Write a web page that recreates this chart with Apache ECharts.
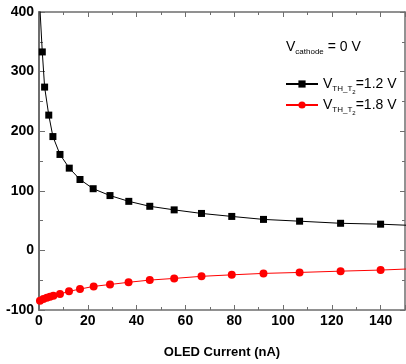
<!DOCTYPE html>
<html><head><meta charset="utf-8">
<script src="https://cdn.jsdelivr.net/npm/echarts@6/dist/echarts.min.js"></script>
<style>html,body{margin:0;padding:0;background:#fff}#c{width:406px;height:364px}</style>
</head><body><div id="c"></div>
<script>
const currentBlack = [0.2, 1.35, 2.3, 4.0, 5.7, 8.6, 12.4, 16.8, 22.2, 29.1, 36.8, 45.4, 55.4, 66.6, 79, 92, 106.8, 123.6, 140, 152];
const deltaBlack   = [420, 333, 274, 227, 191, 161, 138, 119, 103.5, 92, 82.3, 74, 68, 62, 57, 52, 49, 45.5, 44, 42];
const currentRed = [0.4, 1.8, 3.2, 4.5, 5.9, 8.6, 12.3, 16.8, 22.4, 29.1, 36.7, 45.4, 55.4, 66.6, 79, 92, 106.8, 123.6, 140, 152];
const deltaRed   = [-84.4, -81.6, -79.4, -77.8, -76.1, -73.2, -68.7, -64.9, -60.4, -57.2, -53.5, -49.8, -47, -43.5, -41, -38.6, -37, -34.8, -33, -31];
const xTicks = [0, 20, 40, 60, 80, 100, 120, 140];
const yTicks = [-100, 0, 100, 200, 300, 400];

const chart = echarts.init(document.getElementById('c'), null, {renderer:'canvas'});
const axisCol = '#6e6e6e';
const FN = 'Liberation Sans, Arial';
const lbl = {fontFamily:FN, fontWeight:'bold', fontSize:14, color:'#000'};
const zip = (a,b)=>a.map((v,i)=>[v,b[i]]);
const legendRich = {
  v:{fontFamily:FN, fontSize:14, color:'#000'},
  s:{fontFamily:FN, fontSize:8, color:'#000', padding:[10,0,0,0]},
  ss:{fontFamily:FN, fontSize:6, color:'#000', padding:[16,0,0,0]}
};
chart.setOption({
  animation:false,
  grid:{left:39, right:1, top:12, bottom:53},
  xAxis:[{
    type:'value', min:0, max:150, interval:20,
    axisLine:{onZero:false, lineStyle:{color:axisCol, width:1.5}},
    axisTick:{inside:true, length:5, lineStyle:{color:axisCol}},
    minorTick:{show:true, splitNumber:2, length:3, lineStyle:{color:axisCol}},
    splitLine:{show:false},
    axisLabel:Object.assign({margin:4, customValues:xTicks}, lbl),
    name:'OLED Current (nA)', nameLocation:'middle', nameGap:36,
    nameTextStyle:{fontFamily:FN, fontWeight:'bold', fontSize:13, color:'#000'}
  },{
    type:'value', position:'top', min:0, max:150, interval:20,
    axisLine:{show:true, onZero:false, lineStyle:{color:axisCol, width:1.5}},
    axisTick:{inside:true, length:5, lineStyle:{color:axisCol}},
    minorTick:{show:true, splitNumber:2, length:3, lineStyle:{color:axisCol}},
    axisLabel:{show:false}, splitLine:{show:false}
  }],
  yAxis:[{
    type:'value', min:-100, max:400, interval:100,
    axisLine:{show:true, onZero:false, lineStyle:{color:axisCol, width:2}},
    axisTick:{show:true, inside:true, length:6, lineStyle:{color:axisCol}},
    minorTick:{show:true, splitNumber:2, length:4, lineStyle:{color:axisCol}},
    splitLine:{show:false},
    axisLabel:Object.assign({margin:5, customValues:yTicks}, lbl)
  },{
    type:'value', position:'right', min:-100, max:400, interval:100,
    axisLine:{show:true, onZero:false, lineStyle:{color:axisCol, width:1.5}},
    axisTick:{show:true, inside:true, length:5, lineStyle:{color:axisCol}},
    minorTick:{show:true, splitNumber:2, length:3, lineStyle:{color:axisCol}},
    axisLabel:{show:false}, splitLine:{show:false}
  }],
  legend:{
    left:280, top:72, orient:'vertical', itemGap:3, itemWidth:32, itemHeight:9,
    textStyle:{rich:legendRich},
    formatter:function(n){
      return n==='a' ? '{v|V}{s|TH_T}{ss|2}{v|=1.2 V}' : '{v|V}{s|TH_T}{ss|2}{v|=1.8 V}';
    },
    data:['a','b']
  },
  graphic:[{
    type:'text', left:286, top:40,
    style:{rich:{
      v:{fontFamily:FN, fontSize:14, fill:'#000'},
      s:{fontFamily:FN, fontSize:8, fill:'#000', padding:[10,0,0,0]}
    }, text:'{v|V}{s|cathode}{v| = 0 V}'}
  }],
  series:[{
    name:'a', type:'line', data:zip(currentBlack, deltaBlack), clip:true,
    symbol:'rect', symbolSize:7, showAllSymbol:true,
    itemStyle:{color:'#000'}, lineStyle:{color:'#000', width:1}
  },{
    name:'b', type:'line', data:zip(currentRed, deltaRed), clip:true,
    symbol:'circle', symbolSize:8, showAllSymbol:true,
    itemStyle:{color:'#ff0000'}, lineStyle:{color:'#ff0000', width:1}
  }]
});
</script></body></html>
